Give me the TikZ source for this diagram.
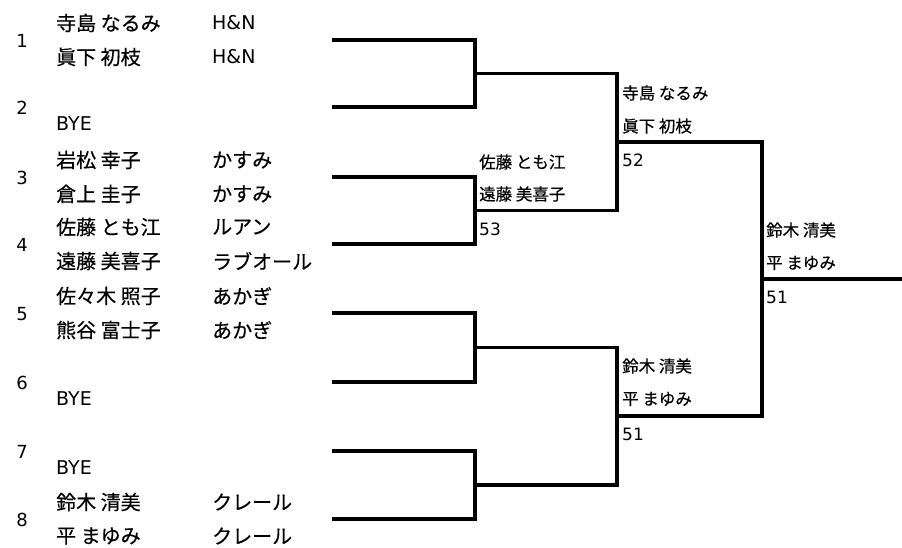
\documentclass[tikz,border=0pt]{standalone}
\usepackage{fontspec}
\setmainfont{DejaVu Sans}
\newfontfamily\jpfont[RawFeature={embolden=0.4}]{Noto Sans CJK JP}
\usetikzlibrary{calc}

\tikzset{
	bracket/.style={line width=3.2pt},
	seed/.style={inner sep=0pt,font=\fontsize{18}{18}\selectfont},
	player/.style={anchor=west,inner sep=0pt,font=\jpfont\fontsize{20}{20}\selectfont},
	latin/.style={anchor=west,inner sep=0pt,font=\fontsize{19}{19}\selectfont},
	winner/.style={anchor=west,inner sep=0pt,font=\jpfont\fontsize{16.5}{16.5}\selectfont},
	score/.style={anchor=west,inner sep=0pt,font=\fontsize{17}{17}\selectfont}
}

\begin{document}
\begin{tikzpicture}[x=1pt,y=-1pt]
		\def\xA{332}   % first round
		\def\xB{475}   % second round
		\def\xC{617}   % semi final
		\def\xD{762}   % final
		\def\xE{902}
		\def\xName{56}
		\def\xClub{212}
		
		\useasboundingbox (0,0) rectangle (902,548);
		
		% entries
		\coordinate (e1) at (\xA,40);
		\coordinate (e2) at (\xA,107);
		\coordinate (e3) at (\xA,177);
		\coordinate (e4) at (\xA,244);
		\coordinate (e5) at (\xA,313);
		\coordinate (e6) at (\xA,382);
		\coordinate (e7) at (\xA,451);
		\coordinate (e8) at (\xA,519);
		
		\coordinate (q1) at (\xB,73.5);
		\coordinate (q2) at (\xB,210.5);
		\coordinate (q3) at (\xB,347.5);
		\coordinate (q4) at (\xB,485);
		\coordinate (s1) at (\xC,142);
		\coordinate (s2) at (\xC,416);
		\coordinate (fin) at (\xD,279);
		\coordinate (champ) at (\xE,279);
		
		\draw[bracket] (e1) -| (q1) |- (e2);
		\draw[bracket] (e3) -| (q2) |- (e4);
		\draw[bracket] (e5) -| (q3) |- (e6);
		\draw[bracket] (e7) -| (q4) |- (e8);
		\draw[bracket] (q1) -| (s1) |- (q2);
		\draw[bracket] (q3) -| (s2) |- (q4);
		\draw[bracket] (s1) -| (fin) |- (s2);
		\draw[bracket] (fin) -- (champ);
		
		% seeds
		\node[seed] (n1) at (22,41) {1};
		\node[seed] (n2) at (22,108) {2};
		\node[seed] (n3) at (22,178) {3};
		\node[seed] (n4) at (22,245) {4};
		\node[seed] (n5) at (22,314) {5};
		\node[seed] (n6) at (22,383) {6};
		\node[seed] (n7) at (22,452) {7};
		\node[seed] (n8) at (22,520) {8};
		
		% players and clubs
		\node[player] (p1a) at (\xName,23) {寺島 なるみ};
		\node[latin] (c1a) at (\xClub,23) {H\&N};
		\node[player] (p1b) at (\xName,57) {眞下 初枝};
		\node[latin] (c1b) at (\xClub,57) {H\&N};
		\node[latin] (p2) at (\xName,124) {BYE};
		\node[player] (p3a) at (\xName,160) {岩松 幸子};
		\node[player] (c3a) at (\xClub,160) {かすみ};
		\node[player] (p3b) at (\xName,194) {倉上 圭子};
		\node[player] (c3b) at (\xClub,194) {かすみ};
		\node[player] (p4a) at (\xName,227) {佐藤 とも江};
		\node[player] (c4a) at (\xClub,227) {ルアン};
		\node[player] (p4b) at (\xName,261) {遠藤 美喜子};
		\node[player] (c4b) at (\xClub,261) {ラブオール};
		\node[player] (p5a) at (\xName,296) {佐々木 照子};
		\node[player] (c5a) at (\xClub,296) {あかぎ};
		\node[player] (p5b) at (\xName,330) {熊谷 富士子};
		\node[player] (c5b) at (\xClub,330) {あかぎ};
		\node[latin] (p6) at (\xName,399) {BYE};
		\node[latin] (p7) at (\xName,468) {BYE};
		\node[player] (p8a) at (\xName,502) {鈴木 清美};
		\node[player] (c8a) at (\xClub,502) {クレール};
		\node[player] (p8b) at (\xName,536) {平 まゆみ};
		\node[player] (c8b) at (\xClub,536) {クレール};
		
		% winners
		\node[winner] (w2a) at (\xB+4,162) {佐藤 とも江};
		\node[winner] (w2b) at (\xB+4,194) {遠藤 美喜子};
		\node[score] (r2) at (\xB+4,229) {53};
		
		\node[winner] (ws1a) at (\xC+5,93) {寺島 なるみ};
		\node[winner] (ws1b) at (\xC+5,126) {眞下 初枝};
		\node[score] (rs1) at (\xC+5,160) {52};
		
		\node[winner] (ws2a) at (\xC+5,366) {鈴木 清美};
		\node[winner] (ws2b) at (\xC+5,399) {平 まゆみ};
		\node[score] (rs2) at (\xC+5,434) {51};
		
		\node[winner] (wfa) at (\xD+4,230) {鈴木 清美};
		\node[winner] (wfb) at (\xD+4,263) {平 まゆみ};
		\node[score] (rf) at (\xD+4,297) {51};
		
	\end{tikzpicture}
\end{document}
